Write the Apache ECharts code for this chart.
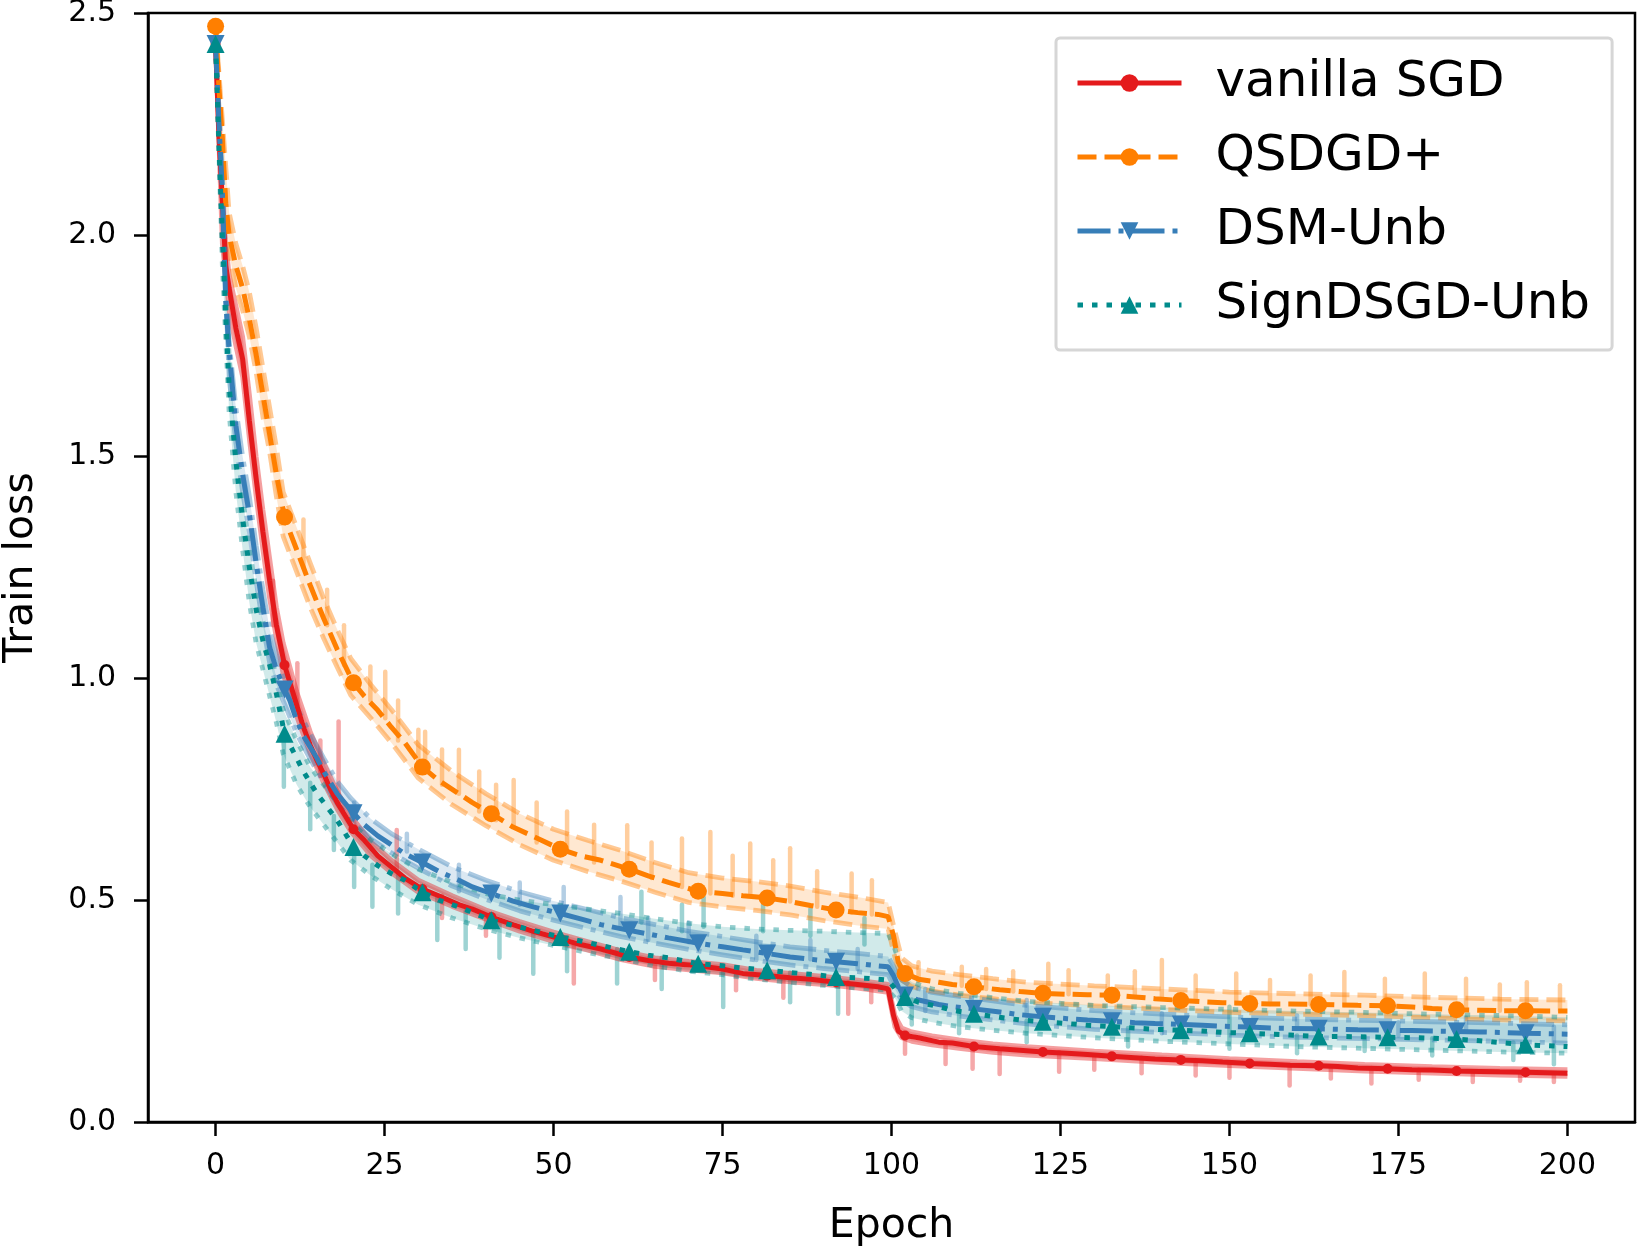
<!DOCTYPE html>
<html>
<head>
<meta charset="utf-8">
<title>Train loss</title>
<script src="https://cdn.jsdelivr.net/npm/echarts@6/dist/echarts.min.js"></script>
<style>
  html, body { margin: 0; padding: 0; background: #fff; }
  #chart { width: 1638px; height: 1249px; }
</style>
</head>
<body>
<div id="chart"></div>
<script>
// epochs where the mean curves are sampled (marker epochs included)
const epochs = [0, 0.5, 1, 1.5, 2, 3, 4, 5, 6, 7, 8, 9, 10.2, 11, 12, 13, 14, 15, 16, 17, 18,
  20.4, 22, 24, 26, 28, 30.6, 33, 36, 38, 40.8, 44, 47, 51, 54, 57, 61.2, 64, 67, 71.4, 75, 78,
  81.6, 85, 88, 91.8, 95, 98, 99.5, 100.3, 101, 102, 104, 107, 109, 112.2, 116, 119, 122.4, 126, 129,
  132.6, 136, 139, 142.8, 146, 149, 153, 156, 159, 163.2, 166, 169, 173.4, 177, 180, 183.6, 187, 190,
  193.8, 197, 200];
const markEpochs = [0, 10.2, 20.4, 30.6, 40.8, 51, 61.2, 71.4, 81.6, 91.8, 102, 112.2, 122.4,
  132.6, 142.8, 153, 163.2, 173.4, 183.6, 193.8];

const sgdLoss = [2.43, 2.22, 2.08, 1.93, 1.88, 1.79, 1.72, 1.58, 1.45, 1.33, 1.22, 1.12,
  1.03, 0.99, 0.94, 0.89, 0.85, 0.815, 0.785, 0.75, 0.72, 0.66, 0.635, 0.60, 0.575, 0.55,
  0.525, 0.51, 0.49, 0.48, 0.462, 0.445, 0.43, 0.413, 0.40, 0.39, 0.372, 0.364, 0.358,
  0.352, 0.345, 0.335, 0.33, 0.325, 0.322, 0.315, 0.31, 0.305, 0.30, 0.24, 0.205,
  0.195, 0.19, 0.18, 0.178, 0.17, 0.165, 0.162, 0.158, 0.155, 0.152, 0.148, 0.145, 0.142,
  0.14, 0.138, 0.135, 0.132, 0.13, 0.128, 0.127, 0.125, 0.122, 0.12, 0.118, 0.117,
  0.115, 0.114, 0.113, 0.112, 0.111, 0.11];
const qsgdLoss = [2.47, 2.33, 2.22, 2.07, 2.00, 1.93, 1.88, 1.81, 1.73, 1.64, 1.55, 1.46,
  1.364, 1.33, 1.29, 1.25, 1.21, 1.172, 1.135, 1.10, 1.065, 0.99, 0.96, 0.928, 0.89, 0.855,
  0.80, 0.77, 0.74, 0.72, 0.695, 0.665, 0.644, 0.615, 0.60, 0.59, 0.57, 0.555, 0.54,
  0.52, 0.515, 0.51, 0.505, 0.497, 0.488, 0.478, 0.472, 0.468, 0.463, 0.42, 0.36,
  0.335, 0.322, 0.315, 0.31, 0.305, 0.298, 0.294, 0.29, 0.288, 0.287, 0.286, 0.282, 0.278,
  0.274, 0.271, 0.269, 0.267, 0.266, 0.266, 0.265, 0.264, 0.263, 0.262, 0.259, 0.256,
  0.253, 0.252, 0.251, 0.251, 0.25, 0.25];
const dsmLoss = [2.43, 2.25, 2.10, 1.85, 1.74, 1.57, 1.46, 1.37, 1.26, 1.16, 1.07, 1.02,
  0.975, 0.95, 0.905, 0.87, 0.845, 0.82, 0.79, 0.765, 0.74, 0.696, 0.67, 0.645, 0.625, 0.605,
  0.585, 0.565, 0.545, 0.53, 0.515, 0.498, 0.485, 0.47, 0.458, 0.445, 0.432, 0.424, 0.415,
  0.403, 0.395, 0.388, 0.38, 0.372, 0.367, 0.361, 0.357, 0.352, 0.35, 0.33, 0.305,
  0.285, 0.275, 0.265, 0.26, 0.255, 0.248, 0.242, 0.237, 0.233, 0.23, 0.227, 0.224, 0.222,
  0.22, 0.218, 0.216, 0.214, 0.212, 0.211, 0.21, 0.209, 0.208, 0.207, 0.206, 0.205,
  0.204, 0.203, 0.202, 0.2, 0.199, 0.198];
const signLoss = [2.43, 2.20, 2.00, 1.82, 1.66, 1.49, 1.36, 1.25, 1.155, 1.085, 1.03, 0.965,
  0.875, 0.85, 0.82, 0.79, 0.765, 0.74, 0.72, 0.70, 0.68, 0.62, 0.60, 0.578, 0.56, 0.545,
  0.518, 0.50, 0.485, 0.472, 0.455, 0.443, 0.432, 0.417, 0.408, 0.398, 0.384, 0.376, 0.37,
  0.357, 0.352, 0.347, 0.342, 0.337, 0.333, 0.327, 0.325, 0.322, 0.32, 0.305, 0.29,
  0.282, 0.27, 0.26, 0.252, 0.244, 0.236, 0.23, 0.226, 0.222, 0.218, 0.215, 0.212, 0.209,
  0.207, 0.205, 0.202, 0.2, 0.198, 0.196, 0.193, 0.193, 0.192, 0.191, 0.19, 0.189,
  0.187, 0.183, 0.179, 0.174, 0.172, 0.17];

// faint individual runs (upper / lower) sampled on a coarser grid
const bandEpochs = [0, 1, 2, 3, 4, 5, 6, 7, 8, 9, 10, 12, 14, 16, 18, 20, 23, 26, 30, 35, 40, 45,
  50, 55, 60, 65, 70, 75, 80, 85, 90, 95, 99.5, 100.5, 101.5, 103, 106, 110, 115, 120, 130, 140,
  150, 160, 170, 180, 190, 200];
const sgdHigh = [2.43, 2.06, 1.91, 1.84, 1.77, 1.64, 1.5, 1.38, 1.27, 1.16, 1.08, 0.97, 0.88, 0.81,
  0.745, 0.69, 0.632, 0.59, 0.545, 0.51, 0.478, 0.452, 0.428, 0.407, 0.386, 0.37, 0.362, 0.355,
  0.342, 0.335, 0.328, 0.32, 0.31, 0.24, 0.212, 0.203, 0.194, 0.185, 0.176, 0.17, 0.16, 0.151,
  0.143, 0.136, 0.13, 0.125, 0.121, 0.118];
const sgdLow = [2.43, 1.98, 1.83, 1.75, 1.68, 1.54, 1.41, 1.29, 1.18, 1.09, 1.01, 0.915, 0.83, 0.765,
  0.705, 0.655, 0.6, 0.562, 0.518, 0.486, 0.457, 0.43, 0.407, 0.388, 0.366, 0.351, 0.343, 0.336,
  0.324, 0.316, 0.31, 0.302, 0.292, 0.215, 0.19, 0.182, 0.174, 0.166, 0.157, 0.151, 0.143, 0.134,
  0.127, 0.121, 0.115, 0.11, 0.106, 0.103];
const qsgdHigh = [2.47, 2.26, 2.05, 1.98, 1.93, 1.87, 1.79, 1.7, 1.61, 1.52, 1.42, 1.34, 1.26, 1.18,
  1.11, 1.045, 0.985, 0.93, 0.85, 0.79, 0.74, 0.695, 0.66, 0.635, 0.612, 0.585, 0.562, 0.55,
  0.542, 0.532, 0.518, 0.507, 0.495, 0.43, 0.37, 0.352, 0.34, 0.332, 0.323, 0.315, 0.307, 0.3,
  0.293, 0.289, 0.286, 0.281, 0.277, 0.275];
const qsgdLow = [2.47, 2.18, 1.96, 1.88, 1.83, 1.77, 1.69, 1.59, 1.51, 1.41, 1.32, 1.24, 1.16, 1.09,
  1.025, 0.962, 0.91, 0.855, 0.775, 0.715, 0.668, 0.625, 0.59, 0.565, 0.543, 0.518, 0.495, 0.485,
  0.477, 0.467, 0.454, 0.443, 0.435, 0.372, 0.32, 0.305, 0.295, 0.286, 0.278, 0.27, 0.262, 0.254,
  0.247, 0.243, 0.24, 0.235, 0.23, 0.228];
const dsmHigh = [2.43, 2.14, 1.76, 1.61, 1.5, 1.41, 1.3, 1.2, 1.11, 1.055, 1.01, 0.935, 0.875, 0.82,
  0.768, 0.73, 0.683, 0.65, 0.615, 0.575, 0.545, 0.519, 0.498, 0.479, 0.46, 0.445, 0.43, 0.418,
  0.406, 0.395, 0.387, 0.38, 0.373, 0.345, 0.32, 0.305, 0.292, 0.283, 0.273, 0.263, 0.251, 0.243,
  0.237, 0.232, 0.229, 0.226, 0.223, 0.219];
const dsmLow = [2.43, 2.06, 1.68, 1.53, 1.42, 1.33, 1.22, 1.12, 1.035, 0.985, 0.95, 0.875, 0.818, 0.765,
  0.718, 0.682, 0.638, 0.607, 0.572, 0.532, 0.502, 0.476, 0.455, 0.436, 0.418, 0.403, 0.389, 0.377,
  0.365, 0.354, 0.346, 0.339, 0.332, 0.3, 0.274, 0.26, 0.248, 0.239, 0.23, 0.221, 0.209, 0.202,
  0.196, 0.191, 0.188, 0.185, 0.182, 0.178];
const signHigh = [2.43, 2.05, 1.73, 1.54, 1.41, 1.29, 1.2, 1.13, 1.07, 1.0, 0.93, 0.86, 0.8, 0.76,
  0.72, 0.675, 0.635, 0.605, 0.57, 0.54, 0.515, 0.5, 0.49, 0.48, 0.47, 0.458, 0.448, 0.44,
  0.435, 0.432, 0.43, 0.427, 0.425, 0.39, 0.34, 0.315, 0.3, 0.29, 0.28, 0.272, 0.263, 0.258,
  0.254, 0.25, 0.247, 0.243, 0.24, 0.236];
const signLow = [2.43, 1.93, 1.6, 1.42, 1.29, 1.17, 1.08, 1.02, 0.96, 0.9, 0.83, 0.76, 0.71, 0.67,
  0.63, 0.59, 0.555, 0.525, 0.49, 0.46, 0.435, 0.415, 0.398, 0.382, 0.368, 0.352, 0.34, 0.332,
  0.322, 0.315, 0.308, 0.302, 0.297, 0.28, 0.25, 0.235, 0.225, 0.215, 0.207, 0.2, 0.19, 0.182,
  0.176, 0.17, 0.166, 0.162, 0.158, 0.155];

// noisy excursions of the runs: [epoch, low, high]
const sgdSpikes = [[8.5, 1.12, 1.22], [12.1, 0.94, 1.034], [15.5, 0.78, 0.86], [18.2, 0.72, 0.903],
  [26.8, 0.57, 0.658], [33.5, 0.46, 0.51], [40, 0.42, 0.465], [53, 0.312, 0.40], [65, 0.32, 0.36],
  [77, 0.297, 0.34], [84, 0.28, 0.325], [93.6, 0.244, 0.315], [97, 0.27, 0.305], [102, 0.154, 0.195],
  [108, 0.131, 0.18], [112, 0.12, 0.17], [116, 0.108, 0.165], [124.8, 0.113, 0.157], [130, 0.118, 0.15],
  [137, 0.11, 0.145], [145, 0.105, 0.14], [150, 0.1, 0.134], [158.9, 0.082, 0.128], [165, 0.098, 0.125],
  [171, 0.087, 0.122], [178, 0.095, 0.118], [186, 0.09, 0.114], [193, 0.093, 0.112], [198, 0.09, 0.11]];
const qsgdSpikes = [[13, 1.25, 1.358], [16.5, 1.12, 1.2], [19, 1.03, 1.12], [22.9, 0.95, 1.027],
  [25.1, 0.91, 1.015], [27, 0.86, 0.95], [30, 0.81, 0.884], [31, 0.8, 0.88], [33.5, 0.76, 0.84],
  [36, 0.74, 0.839], [39, 0.7, 0.79], [41.5, 0.68, 0.76], [44.1, 0.665, 0.771], [47.5, 0.63, 0.72],
  [52, 0.61, 0.70], [56, 0.585, 0.67], [60.9, 0.57, 0.669], [64.5, 0.55, 0.63], [69, 0.53, 0.639],
  [73.2, 0.515, 0.654], [76.5, 0.51, 0.6], [79.1, 0.51, 0.628], [82.5, 0.5, 0.59], [85, 0.497, 0.617],
  [89, 0.485, 0.565], [94.1, 0.472, 0.56], [97.1, 0.468, 0.545], [104, 0.318, 0.36], [110.4, 0.307, 0.35],
  [114, 0.3, 0.345], [118, 0.294, 0.34], [123.2, 0.29, 0.357], [126.2, 0.288, 0.342], [132, 0.285, 0.33],
  [136, 0.282, 0.34], [140, 0.278, 0.365], [145, 0.272, 0.33], [151, 0.268, 0.335], [156, 0.266, 0.32],
  [162, 0.265, 0.33], [167, 0.264, 0.338], [173, 0.262, 0.323], [178.9, 0.258, 0.335], [185, 0.253, 0.323],
  [190, 0.251, 0.31], [194, 0.25, 0.315], [198.9, 0.25, 0.308]];
const dsmSpikes = [[20.5, 0.66, 0.72], [28.3, 0.61, 0.65], [36, 0.52, 0.58], [45, 0.49, 0.54],
  [51.5, 0.47, 0.53], [59.9, 0.44, 0.507], [64, 0.41, 0.46], [70, 0.405, 0.45], [80, 0.365, 0.42],
  [88, 0.367, 0.41], [95, 0.345, 0.39], [105, 0.25, 0.3], [120, 0.24, 0.275], [140, 0.2, 0.245],
  [160, 0.21, 0.24], [175, 0.195, 0.225], [185, 0.204, 0.235], [198, 0.18, 0.215]];
const signSpikes = [[10.1, 0.756, 0.87], [14, 0.66, 0.765], [17.5, 0.613, 0.69], [20.5, 0.53, 0.62],
  [23.2, 0.485, 0.58], [27, 0.47, 0.555], [32.8, 0.41, 0.505], [37, 0.39, 0.475], [42, 0.37, 0.455],
  [47, 0.334, 0.43], [52, 0.34, 0.417], [59.4, 0.312, 0.39], [63, 0.45, 0.519], [66, 0.3, 0.37],
  [69, 0.43, 0.49], [72.2, 0.44, 0.507], [75.1, 0.259, 0.352], [81, 0.43, 0.49], [85, 0.27, 0.337],
  [88, 0.42, 0.48], [92.1, 0.244, 0.327], [96, 0.4, 0.46], [103, 0.22, 0.276], [110, 0.2, 0.25],
  [120, 0.18, 0.229], [135, 0.17, 0.212], [150, 0.165, 0.26], [160, 0.155, 0.195], [170, 0.16, 0.192],
  [180, 0.15, 0.189], [192, 0.14, 0.179], [198, 0.13, 0.17]];

const xTicks = [0, 25, 50, 75, 100, 125, 150, 175, 200];

const methods = [
  { name: 'vanilla SGD', color: '#e41a1c', dash: 'solid', symbol: 'circle', size: 10, rotate: 0,
    mean: sgdLoss, high: sgdHigh, low: sgdLow, spikes: sgdSpikes },
  { name: 'QSDGD+', color: '#ff7f00', dash: [19, 8], symbol: 'circle', size: 17, rotate: 0,
    mean: qsgdLoss, high: qsgdHigh, low: qsgdLow, spikes: qsgdSpikes },
  { name: 'DSM-Unb', color: '#377eb8', dash: [33, 8, 5, 8], symbol: 'triangle', size: 18, rotate: 180,
    mean: dsmLoss, high: dsmHigh, low: dsmLow, spikes: dsmSpikes },
  { name: 'SignDSGD-Unb', color: '#008b8b', dash: [5.5, 9], symbol: 'triangle', size: 18, rotate: 0,
    mean: signLoss, high: signHigh, low: signLow, spikes: signSpikes }
];

const font = 'DejaVu Sans';
const series = [];

// faint stuff first: filled band, the two runs, the spikes
methods.forEach(m => {
  series.push({
    type: 'custom',
    silent: true,
    z: 1,
    data: [[0, 0]],
    renderItem: (params, api) => {
      const top = bandEpochs.map((e, i) => api.coord([e, m.high[i]]));
      const bottom = bandEpochs.map((e, i) => api.coord([e, m.low[i]])).reverse();
      return {
        type: 'polygon',
        shape: { points: top.concat(bottom) },
        style: { fill: m.color, opacity: 0.18 }
      };
    }
  });
  [m.high, m.low].forEach(run => {
    series.push({
      type: 'line',
      silent: true,
      z: 2,
      symbol: 'none',
      data: bandEpochs.map((e, i) => [e, run[i]]),
      lineStyle: { color: m.color, width: 4.8, type: m.dash, opacity: 0.42 }
    });
  });
  series.push({
    type: 'custom',
    silent: true,
    z: 2,
    encode: { x: 0, y: [1, 2] },
    data: m.spikes,
    renderItem: (params, api) => {
      const a = api.coord([api.value(0), api.value(1)]);
      const b = api.coord([api.value(0), api.value(2)]);
      return {
        type: 'line',
        shape: { x1: a[0], y1: a[1], x2: b[0], y2: b[1] },
        style: { stroke: m.color, lineWidth: 4.5, opacity: 0.38, lineCap: 'round' }
      };
    }
  });
});

// mean curves and their markers
methods.forEach(m => {
  series.push({
    name: m.name,
    type: 'line',
    z: 5,
    showSymbol: false,
    symbol: m.symbol,
    symbolSize: m.size,
    symbolRotate: m.rotate,
    data: epochs.map((e, i) => [e, m.mean[i]]),
    itemStyle: { color: m.color },
    lineStyle: { color: m.color, width: 5, type: m.dash }
  });
  series.push({
    type: 'scatter',
    z: 6,
    silent: true,
    symbol: m.symbol,
    symbolSize: m.size,
    symbolRotate: m.rotate,
    itemStyle: { color: m.color, opacity: 1 },
    data: epochs.map((e, i) => [e, m.mean[i]]).filter(p => markEpochs.includes(p[0]))
  });
});

const chart = echarts.init(document.getElementById('chart'));
chart.setOption({
  animation: false,
  backgroundColor: '#fff',
  textStyle: { fontFamily: font },
  grid: {
    left: 148, right: 3, top: 13, bottom: 127,
    outerBoundsMode: 'none',
    show: true, borderColor: '#000', borderWidth: 2.5, backgroundColor: 'transparent'
  },
  legend: {
    orient: 'vertical',
    left: 1056, top: 38,
    padding: [20, 22, 20, 19],
    itemWidth: 104, itemHeight: 22, itemGap: 24,
    backgroundColor: '#fff',
    borderColor: '#d6d6d6', borderWidth: 3, borderRadius: 4,
    lineStyle: { width: 5 },
    textStyle: { fontSize: 50, color: '#000', fontFamily: font, lineHeight: 50, padding: [0, 0, 0, 29] },
    data: methods.map(m => m.name),
    z: 20
  },
  xAxis: {
    type: 'value',
    min: -10, max: 210,
    name: 'Epoch',
    nameLocation: 'middle',
    nameGap: 84,
    nameTextStyle: { fontSize: 41, color: '#000', fontFamily: font },
    axisLine: { show: true, onZero: false, lineStyle: { color: '#000', width: 2.5 } },
    axisTick: { show: true, length: 14, customValues: xTicks, lineStyle: { color: '#000', width: 2.5 } },
    axisLabel: { fontSize: 30, color: '#000', margin: 29, customValues: xTicks },
    splitLine: { show: false }
  },
  yAxis: {
    type: 'value',
    min: 0, max: 2.5, interval: 0.5,
    name: 'Train loss',
    nameLocation: 'middle',
    nameGap: 106,
    nameTextStyle: { fontSize: 41, color: '#000', fontFamily: font },
    axisLine: { show: true, onZero: false, lineStyle: { color: '#000', width: 2.5 } },
    axisTick: { show: true, length: 14, lineStyle: { color: '#000', width: 2.5 } },
    axisLabel: { fontSize: 30, color: '#000', margin: 32, formatter: v => v.toFixed(1) },
    splitLine: { show: false }
  },
  series: series
});
</script>
</body>
</html>
